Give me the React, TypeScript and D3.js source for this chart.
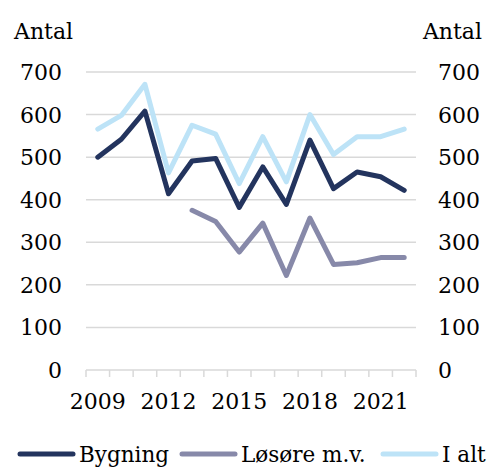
import React from "react";
import * as d3 from "d3";

const years = [2009, 2010, 2011, 2012, 2013, 2014, 2015, 2016, 2017, 2018, 2019, 2020, 2021, 2022];
const yearLabels = [2009, 2012, 2015, 2018, 2021];
const yTicks = [0, 100, 200, 300, 400, 500, 600, 700];

// values, Løsøre starts in 2013
const bygning = [500, 542, 608, 414, 491, 497, 382, 477, 389, 540, 426, 465, 454, 422];
const losore = [null, null, null, null, 375, 349, 277, 345, 222, 357, 248, 252, 264, 264];
const iAlt = [566, 598, 671, 463, 575, 554, 438, 548, 442, 600, 506, 548, 548, 566];

const seriesNames = ["Bygning", "Løsøre m.v.", "I alt"];
const seriesColors = ["#23345E", "#8789A9", "#BDE3F7"];

const width = 491;
const height = 467;
const font = "'DejaVu Serif', serif";

const App = () => {
    const x = d3.scaleBand<number>().domain(years).range([86, 416]);
    const y = d3.scaleLinear().domain([0, 700]).range([370, 72]);
    const cx = (yr: number) => (x(yr) as number) + x.bandwidth() / 2;

    const line = d3
        .line<number | null>()
        .defined((d) => d !== null)
        .x((_, i) => cx(years[i]))
        .y((d) => y(d as number));

    const allSeries = [bygning, losore, iAlt];
    const boundaries = [...years.map((yr) => x(yr) as number), x.range()[1]];

    // legend layout: line + label
    const legendItems = [
        { x1: 20, x2: 73, tx: 79 },
        { x1: 182, x2: 235, tx: 241 },
        { x1: 383, x2: 436, tx: 442 },
    ];

    return (
        <svg
            width={width}
            height={height}
            style={{ position: "absolute", left: 0, top: 0, background: "#fff" }}
            fontFamily={font}
        >
            {/* gridlines */}
            {yTicks.slice(1).map((t) => (
                <line key={t} x1={86} x2={416} y1={y(t)} y2={y(t)} stroke="#D9D9D9" strokeWidth={1.5} />
            ))}
            {/* x axis */}
            <line x1={86} x2={416} y1={y(0)} y2={y(0)} stroke="#D9D9D9" strokeWidth={1.5} />
            {boundaries.map((bx, i) => (
                <line key={i} x1={bx} x2={bx} y1={y(0)} y2={y(0) + 7} stroke="#D9D9D9" strokeWidth={1.5} />
            ))}

            {/* left and right y labels */}
            {yTicks.map((t) => (
                <g key={t} fontSize={22} fill="#000">
                    <text x={62} y={y(t) + 8} textAnchor="end">{t}</text>
                    <text x={438} y={y(t) + 8} textAnchor="start">{t}</text>
                </g>
            ))}
            <text x={14} y={39} fontSize={22}>Antal</text>
            <text x={482} y={39} fontSize={22} textAnchor="end">Antal</text>

            {/* year labels */}
            {yearLabels.map((yr) => (
                <text key={yr} x={cx(yr)} y={409} fontSize={22} textAnchor="middle">{yr}</text>
            ))}

            {/* series */}
            {allSeries.map((s, i) => (
                <path
                    key={seriesNames[i]}
                    d={line(s) as string}
                    fill="none"
                    stroke={seriesColors[i]}
                    strokeWidth={5}
                    strokeLinejoin="round"
                    strokeLinecap="round"
                />
            ))}

            {/* legend */}
            {legendItems.map((it, i) => (
                <g key={seriesNames[i]}>
                    <line x1={it.x1} x2={it.x2} y1={454} y2={454} stroke={seriesColors[i]} strokeWidth={5} strokeLinecap="round" />
                    <text x={it.tx} y={462} fontSize={21.5}>{seriesNames[i]}</text>
                </g>
            ))}
        </svg>
    );
};

export default App;
